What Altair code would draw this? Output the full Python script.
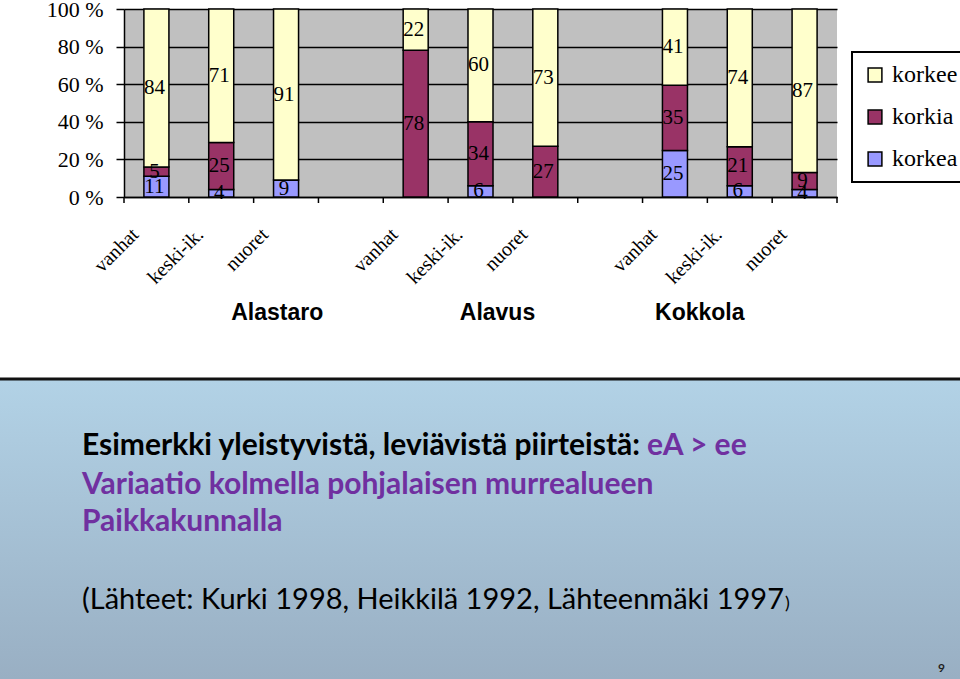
import altair as alt
import pandas as pd

places = ["Alastaro", "Alavus", "Kokkola"]
ages = ["vanhat", "keski-ik.", "nuoret"]
series = ["korkee", "korkia", "korkea"]
korkea = [11, 4, 9, 0, 6, 0, 25, 6, 4]
korkia = [5, 25, 0, 78, 34, 27, 35, 21, 9]
korkee = [84, 71, 91, 22, 60, 73, 41, 74, 87]
y_ticks = [0, 0.2, 0.4, 0.6, 0.8, 1.0]
colors = ["#FFFFCC", "#993366", "#9999FF"]

# category keys with spacer slots between places
domain = []
for i, p in enumerate(places):
    for a in ages:
        domain.append(f"{p}|{a}")
    if i < len(places) - 1:
        domain.append(f"gap{i}")

rows = []
k = 0
for p in places:
    for a in ages:
        key = f"{p}|{a}"
        for s, vals, order in (("korkea", korkea, 0), ("korkia", korkia, 1), ("korkee", korkee, 2)):
            rows.append({"key": key, "series": s, "value": vals[k], "order": order})
        k += 1
df = pd.DataFrame(rows)

W, H = 713, 188
LEFT, TOP = 124, 9

xscale = alt.Scale(domain=domain, paddingInner=0.614, paddingOuter=0.307)
yscale = alt.Scale(domain=[0, 1], nice=False)
xaxis = alt.Axis(
    labelExpr="indexof(datum.value, '|') >= 0 ? split(datum.value, '|')[1] : ''",
    labelAngle=-45, labelAlign="right", labelBaseline="top",
    labelPadding=27, labelOffset=-28, ticks=False, tickSize=0,
    labelFont="Liberation Serif", labelFontSize=20, labelColor="black",
    labelOverlap=False, labelBound=False, labelFlush=False,
    domainColor="black", domainWidth=1.5, grid=False, title=None,
)
yaxis = alt.Axis(
    values=y_ticks, labelExpr="round(datum.value * 100) + ' %'",
    labelFont="Liberation Serif", labelFontSize=22, labelColor="black",
    labelPadding=13, tickSize=8, tickColor="black", tickWidth=1.5,
    labelOverlap=False, labelBound=False, labelFlush=False,
    domainColor="black", domainWidth=1.5,
    grid=True, gridColor="black", gridWidth=1.5, title=None,
)

base = alt.Chart(df).transform_stack(
    stack="value", groupby=["key"], as_=["y0", "y1"],
    sort=[alt.SortField("order")], offset="normalize",
).transform_calculate(mid="(datum.y0 + datum.y1) / 2")

bars = base.mark_bar(stroke="black", strokeWidth=1.5).encode(
    x=alt.X("key:N", scale=xscale, axis=xaxis, sort=domain),
    y=alt.Y("y0:Q", scale=yscale, axis=yaxis),
    y2="y1:Q",
    color=alt.Color(
        "series:N",
        scale=alt.Scale(domain=series, range=colors),
        legend=alt.Legend(
            title=None, orient="none", legendX=728, legendY=43,
            symbolType="square", symbolSize=190, symbolStrokeColor="black",
            symbolStrokeWidth=1.5, labelFont="Liberation Serif", labelFontSize=24,
            labelColor="black", rowPadding=18, padding=11, labelOffset=5,
            strokeColor="black", fillColor="white",
        ),
    ),
)

labels = base.transform_filter("datum.value > 0").mark_text(
    font="Liberation Serif", fontSize=21, color="black", baseline="middle", dx=-2
).encode(
    x=alt.X("key:N", scale=xscale, sort=domain, axis=xaxis),
    y=alt.Y("mid:Q", scale=yscale, axis=yaxis),
    text="value:Q",
)

group_df = pd.DataFrame({"place": places, "anchor": [f"{p}|keski-ik." for p in places]})
group_layers = []
for p, dx in zip(places, [56, 17, -40]):
    group_layers.append(
        alt.Chart(group_df[group_df.place == p]).mark_text(
            font="Liberation Sans", fontWeight="bold", fontSize=23, color="black",
            baseline="middle", dx=dx,
        ).encode(
            x=alt.X("anchor:N", scale=xscale, sort=domain, axis=xaxis),
            y=alt.value(313 - TOP),
            text="place:N",
        )
    )

main = alt.layer(bars, labels, *group_layers)

# ticks at category boundaries (Excel style)
tick_df = pd.DataFrame({"t": list(range(len(domain) + 1))})
ticks = alt.Chart(tick_df).mark_rule(color="black", strokeWidth=1.5).encode(
    x=alt.X("t:Q", scale=alt.Scale(domain=[0, len(domain)], nice=False, zero=False), axis=None),
    y=alt.value(H), y2=alt.value(H + 6),
)

one = pd.DataFrame({"a": [0]})
panel = alt.Chart(one).mark_rect(
    fill=alt.Gradient(
        gradient="linear", x1=0, y1=0, x2=0, y2=1,
        stops=[alt.GradientStop(offset=0, color="#B2D2E6"),
               alt.GradientStop(offset=1, color="#99AFC3")],
    )
).encode(
    x=alt.value(-LEFT), x2=alt.value(960 - LEFT),
    y=alt.value(380 - TOP), y2=alt.value(679 - TOP),
)
line = alt.Chart(one).mark_rule(color="#111111", strokeWidth=3).encode(
    x=alt.value(-LEFT), x2=alt.value(960 - LEFT), y=alt.value(379 - TOP)
)

line1_black = "Esimerkki yleistyvistä, leviävistä piirteistä:"
line1_purple = "eA > ee"
line2 = "Variaatio kolmella pohjalaisen murrealueen"
line3 = "Paikkakunnalla"
line4 = "(Lähteet: Kurki 1998, Heikkilä 1992, Lähteenmäki 1997"
line4_end = ")"
purple = "#7030A0"


def txt(s, x, y, color="black", weight="bold", size=30):
    return alt.Chart(one).mark_text(
        text=s, align="left", baseline="middle", font="Lato",
        fontWeight=weight, fontSize=size, color=color,
    ).encode(x=alt.value(x - LEFT), y=alt.value(y - TOP))


texts = [
    txt(line1_black, 82, 446),
    txt(line1_purple, 647, 446, color=purple),
    txt(line2, 82, 485, color=purple),
    txt(line3, 82, 522, color=purple),
    txt(line4, 82, 600, weight="normal", size=29),
    txt(line4_end, 785, 604, weight="normal", size=18),
    txt("9", 938, 668, color="#222222", size=12),
]

chart = alt.layer(
    main, ticks, panel, line, *texts
).resolve_scale(x="independent").properties(
    width=W, height=H,
    padding={"left": LEFT, "top": TOP, "right": 960 - LEFT - W, "bottom": 679 - TOP - H},
    autosize=alt.AutoSizeParams(type="none"),
    background="white",
).configure_view(fill="#C0C0C0", stroke=None).configure_legend(
    strokeWidth=2
).configure_axisY(labelOverlap=False)

chart.save("out.html", embed_options={"renderer": "svg", "actions": False})
